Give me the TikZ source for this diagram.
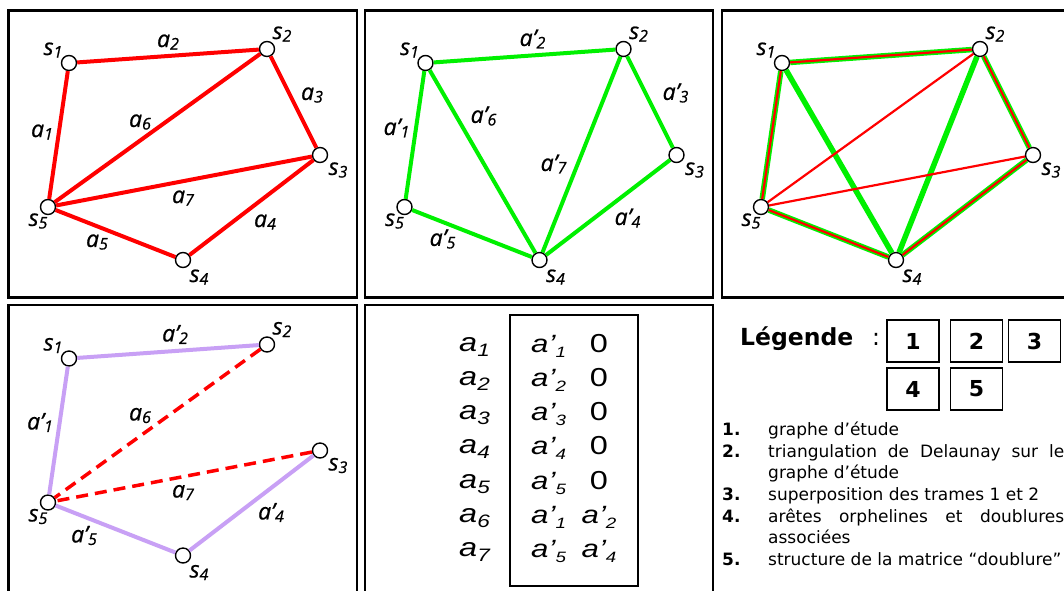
\documentclass[tikz,border=0pt]{standalone}
\usepackage{fontspec}
\setmainfont{DejaVu Sans}
\newfontfamily\labfont{Open Sans}[FakeBold=0.7]
\newfontfamily\matfont{Liberation Sans}
\usetikzlibrary{positioning}
\definecolor{rouge}{RGB}{255,0,0}
\definecolor{vert}{RGB}{0,240,0}
\definecolor{lilas}{RGB}{200,160,245}

% etiquettes des graphes
\newcommand{\lb}[2]{{\labfont\itshape\fontsize{23}{23}\selectfont #1\raisebox{-2.5pt}{\fontsize{16}{16}\selectfont #2}}}
% matrice "doublure"
\newcommand{\ma}[1]{\scalebox{1.25}[1]{\matfont\itshape\fontsize{26}{26}\selectfont a\raisebox{-5pt}{\fontsize{18}{18}\selectfont #1}}}
\newcommand{\mb}[1]{\scalebox{1.25}[1]{\matfont\itshape\fontsize{25}{25}\selectfont a’\raisebox{-5pt}{\fontsize{15}{15}\selectfont #1}}}
\newcommand{\mz}{\scalebox{1.25}[1]{\matfont\fontsize{26}{26}\selectfont 0}}

% les cinq sommets d'une trame
\newcommand{\sommets}[1]{%
  \node[sommet] (#1s1) at (69,63) {};
  \node[sommet] (#1s2) at (267,49) {};
  \node[sommet] (#1s3) at (320,155) {};
  \node[sommet] (#1s4) at (183,260) {};
  \node[sommet] (#1s5) at (48,207) {};
  \node[etiq] (#1t1) at (53,50) {\lb{s}{1}};
  \node[etiq] (#1t2) at (282,34) {\lb{s}{2}};
  \node[etiq] (#1t3) at (338,170) {\lb{s}{3}};
  \node[etiq] (#1t4) at (199,277) {\lb{s}{4}};
  \node[etiq] (#1t5) at (38,221) {\lb{s}{5}};
}

\begin{document}
\begin{tikzpicture}[x=1pt,y=-1pt,
  sommet/.style={circle,draw,fill=white,line width=1.4pt,minimum size=15pt,inner sep=0pt},
  etiq/.style={inner sep=0pt},
  cadre/.style={line width=2.5pt},
  ar/.style={rouge,line width=4pt},
  av/.style={vert,line width=4pt},
  boite/.style={draw,line width=1.2pt,minimum width=52pt,minimum height=42pt,inner sep=0pt,font=\bfseries\fontsize{22}{22}\selectfont},
  item/.style={anchor=base west,inner sep=0pt,font=\fontsize{17}{17}\selectfont}]
\useasboundingbox (0,0) rectangle (1064,590);
\clip (0,0) rectangle (1064,590);
\fill[white] (0,0) rectangle (1064,590);

% cadres
\draw[cadre] (8.5,10.5) rectangle (357,297.5);
\draw[cadre] (365,10.5) rectangle (713,297.5);
\draw[cadre] (722,10.5) rectangle (1100,297.5);
\draw[cadre] (8.5,305) rectangle (357,620);
\draw[cadre] (365,305) rectangle (713,620);

% 1 : graphe d'etude
\begin{scope}
\sommets{p}
\draw[ar] (ps1) -- (ps5);
\draw[ar] (ps1) -- (ps2);
\draw[ar] (ps2) -- (ps3);
\draw[ar] (ps3) -- (ps4);
\draw[ar] (ps4) -- (ps5);
\draw[ar] (ps2) -- (ps5);
\draw[ar] (ps3) -- (ps5);
\node[etiq] (pa1) at (42,132) {\lb{a}{1}};
\node[etiq] (pa2) at (168,42) {\lb{a}{2}};
\node[etiq] (pa3) at (312,95) {\lb{a}{3}};
\node[etiq] (pa4) at (265,222) {\lb{a}{4}};
\node[etiq] (pa5) at (97,242) {\lb{a}{5}};
\node[etiq] (pa6) at (140,122) {\lb{a}{6}};
\node[etiq] (pa7) at (183,198) {\lb{a}{7}};
\end{scope}

% 2 : triangulation de Delaunay
\begin{scope}[shift={(356.5,0)}]
\sommets{q}
\draw[av] (qs1) -- (qs5);
\draw[av] (qs1) -- (qs2);
\draw[av] (qs2) -- (qs3);
\draw[av] (qs3) -- (qs4);
\draw[av] (qs4) -- (qs5);
\draw[av] (qs1) -- (qs4);
\draw[av] (qs2) -- (qs4);
\node[etiq] (qa1) at (40,128) {\lb{a’}{1}};
\node[etiq] (qa2) at (176,39) {\lb{a’}{2}};
\node[etiq] (qa3) at (319,93) {\lb{a’}{3}};
\node[etiq] (qa4) at (271,218) {\lb{a’}{4}};
\node[etiq] (qa5) at (86,239) {\lb{a’}{5}};
\node[etiq] (qa6) at (127,116) {\lb{a’}{6}};
\node[etiq] (qa7) at (197,164) {\lb{a’}{7}};
\end{scope}

% 3 : superposition
\begin{scope}[shift={(713,0)}]
\sommets{r}
\foreach \u/\v in {1/5,1/2,2/3,3/4,4/5,1/4,2/4}
  \draw[vert,line width=5.5pt] (rs\u) -- (rs\v);
\foreach \u/\v in {1/5,1/2,2/3,3/4,4/5,2/5,3/5}
  \draw[rouge,line width=2.2pt] (rs\u) -- (rs\v);
\end{scope}

% 4 : aretes orphelines
\begin{scope}[shift={(0,295.5)}]
\sommets{o}
\draw[lilas,line width=4pt] (os1) -- (os5);
\draw[lilas,line width=4pt] (os1) -- (os2);
\draw[lilas,line width=4pt] (os3) -- (os4);
\draw[lilas,line width=4pt] (os4) -- (os5);
\draw[rouge,line width=3.5pt,dash pattern=on 12pt off 7pt] (os2) -- (os5);
\draw[rouge,line width=3.5pt,dash pattern=on 12pt off 7pt] (os3) -- (os5);
\node[etiq] (oa1) at (40,127) {\lb{a’}{1}};
\node[etiq] (oa2) at (175,39) {\lb{a’}{2}};
\node[etiq] (oa4) at (271,217) {\lb{a’}{4}};
\node[etiq] (oa5) at (84,240) {\lb{a’}{5}};
\node[etiq] (oa6) at (140,120) {\lb{a}{6}};
\node[etiq] (oa7) at (183,197) {\lb{a}{7}};
\end{scope}

% 5 : matrice doublure
\draw[line width=1.3pt] (510,315) rectangle (638,586);
\foreach \i/\b/\c [count=\k from 0] in {1/1/\mz,2/2/\mz,3/3/\mz,4/4/\mz,5/5/\mz,6/1/{\mb{2}},7/5/{\mb{4}}}{
  \node[etiq,anchor=base west] (g\i) at (459,351+34.3*\k) {\ma{\i}};
  \node[etiq,anchor=base west] (d\i) at (531,352+34.3*\k) {\mb{\b}};
  \node[etiq,anchor=base] (z\i) at (599,352+34.3*\k) {\c};
}

% legende
\node[etiq,anchor=base west] (leg) at (740,345) {\fontsize{23.5}{23.5}\selectfont\bfseries Légende};
\node[etiq,anchor=base west] (dp) at (872,345) {\fontsize{23.5}{23.5}\selectfont :};
\foreach \n/\x/\y in {1/913/341,2/976.5/341,3/1034.5/341,4/913/389,5/976.5/389}
  \node[boite] (b\n) at (\x,\y) {\n};

\foreach \n/\y in {1/435,2/457,3/500,4/522,5/565}
  \node[item] (n\n) at (722,\y) {\bfseries\n.};
\node[item] (l1) at (768,435) {graphe d’étude};
\node[item] (l2) at (768,457) {\makebox[296pt][s]{triangulation de Delaunay sur le}};
\node[item] (l2b) at (768,478) {graphe d’étude};
\node[item] (l3) at (768,500) {superposition des trames 1 et 2};
\node[item] (l4) at (768,522) {\makebox[296pt][s]{arêtes orphelines et doublures}};
\node[item] (l4b) at (768,543) {associées};
\node[item] (l5) at (768,565) {structure de la matrice “doublure”};
\end{tikzpicture}
\end{document}
